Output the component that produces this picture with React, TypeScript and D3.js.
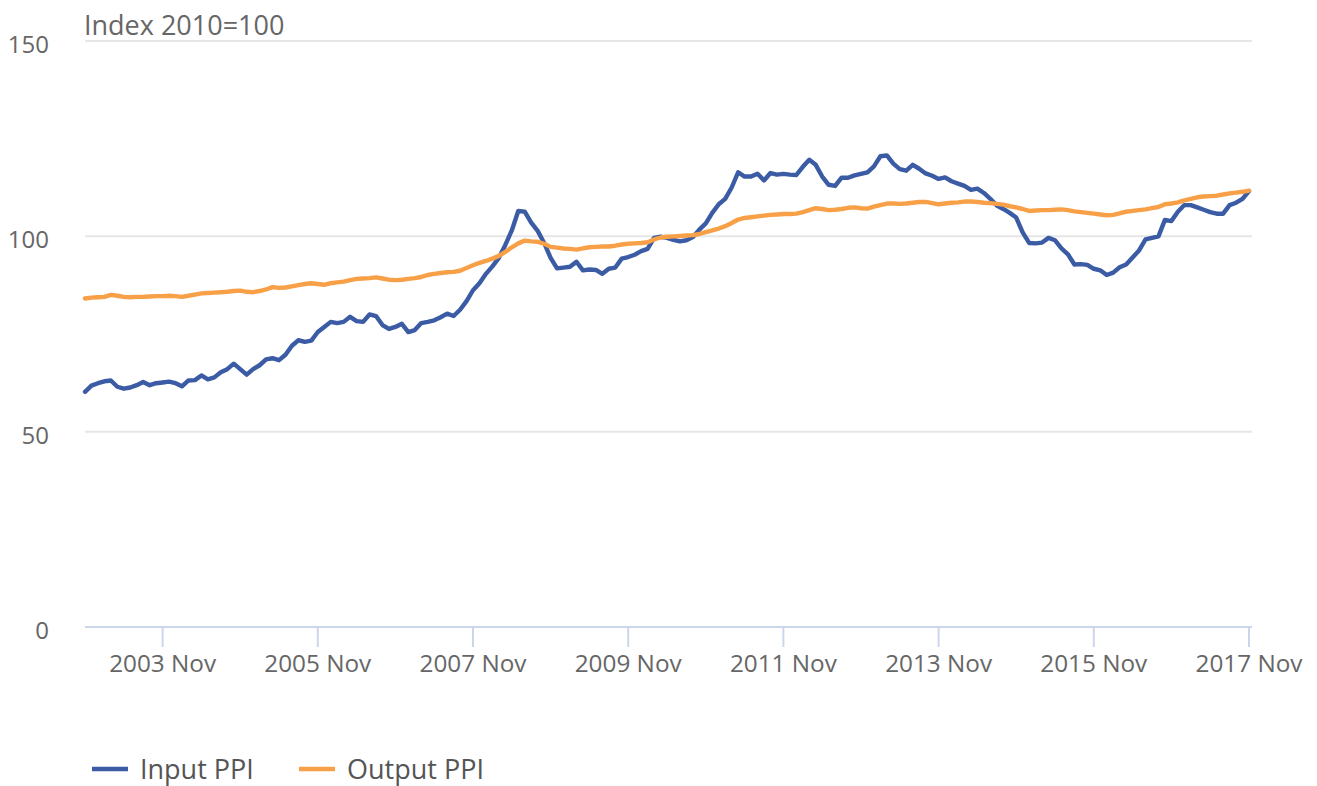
import React, { useEffect, useRef } from "react";
import * as d3 from "d3";

// monthly, 2002 Nov .. 2017 Nov (index 2010=100)
const MONTH_NAMES = ["Jan", "Feb", "Mar", "Apr", "May", "Jun", "Jul", "Aug", "Sep", "Oct", "Nov", "Dec"];
const months: string[] = d3.range(181).map((i) => {
  const m = 10 + i;
  return `${2002 + Math.floor(m / 12)} ${MONTH_NAMES[m % 12]}`;
});

const tickLabels = ["2003 Nov", "2005 Nov", "2007 Nov", "2009 Nov", "2011 Nov", "2013 Nov", "2015 Nov", "2017 Nov"];
const yTicks = [0, 50, 100, 150];

const inputPPI = [
  60.2, 61.8, 62.4, 62.9, 63.1, 61.5, 61.0, 61.3, 61.9, 62.7,
  61.9, 62.4, 62.6, 62.8, 62.4, 61.6, 63.1, 63.2, 64.4, 63.4,
  63.9, 65.2, 66.0, 67.4, 66.0, 64.6, 66.0, 67.0, 68.5, 68.8,
  68.3, 69.7, 72.0, 73.4, 73.0, 73.3, 75.5, 76.8, 78.1, 77.8,
  78.1, 79.4, 78.3, 78.1, 80.0, 79.6, 77.3, 76.3, 76.8, 77.6,
  75.5, 76.0, 77.8, 78.1, 78.5, 79.3, 80.2, 79.6, 81.2, 83.4,
  86.2, 88.0, 90.4, 92.3, 94.5, 97.8, 101.5, 106.5, 106.3, 103.5,
  101.4, 98.3, 94.5, 91.8, 92.0, 92.2, 93.5, 91.3, 91.5, 91.4,
  90.4, 91.7, 92.0, 94.3, 94.7, 95.3, 96.2, 96.8, 99.6, 99.9,
  99.6, 99.1, 98.7, 99.0, 99.8, 101.7, 103.3, 106.0, 108.2, 109.6,
  112.5, 116.4, 115.3, 115.3, 116.0, 114.3, 116.2, 115.8, 116.0, 115.8,
  115.7, 117.8, 119.6, 118.3, 115.3, 113.2, 112.9, 115.0, 115.0, 115.6,
  116.0, 116.4, 117.9, 120.5, 120.7, 118.6, 117.2, 116.8, 118.3, 117.3,
  116.1, 115.5, 114.7, 115.1, 114.1, 113.5, 112.9, 111.9, 112.2, 111.1,
  109.6, 107.9, 107.0, 106.0, 104.8, 101.0, 98.3, 98.2, 98.4, 99.6,
  99.0, 96.9, 95.4, 92.8, 92.9, 92.7, 91.7, 91.3, 90.1, 90.7,
  92.1, 92.8, 94.6, 96.4, 99.2, 99.6, 100.0, 104.2, 103.9, 106.3,
  108.0, 108.0, 107.4, 106.8, 106.2, 105.8, 105.8, 108.0, 108.6, 109.6,
  111.6,
];

const outputPPI = [
  84.1, 84.3, 84.4, 84.5, 85.0, 84.8, 84.5, 84.4, 84.5, 84.5,
  84.6, 84.7, 84.7, 84.8, 84.7, 84.5, 84.8, 85.1, 85.4, 85.5,
  85.6, 85.7, 85.8, 86.0, 86.1, 85.8, 85.7, 86.0, 86.4, 87.0,
  86.8, 86.9, 87.2, 87.5, 87.8, 88.0, 87.8, 87.6, 88.0, 88.2,
  88.4, 88.8, 89.1, 89.2, 89.3, 89.5, 89.2, 88.9, 88.8, 88.9,
  89.1, 89.3, 89.6, 90.1, 90.4, 90.6, 90.8, 90.9, 91.2, 91.9,
  92.6, 93.2, 93.7, 94.3, 95.0, 96.0, 97.2, 98.2, 98.9, 98.7,
  98.6, 98.1, 97.3, 97.1, 96.9, 96.8, 96.6, 96.9, 97.2, 97.3,
  97.4, 97.4, 97.6, 97.9, 98.1, 98.2, 98.3, 98.5, 99.2, 99.7,
  99.9, 100.0, 100.1, 100.2, 100.3, 100.6, 101.1, 101.5, 102.0, 102.6,
  103.4, 104.3, 104.7, 104.9, 105.1, 105.3, 105.5, 105.6, 105.7, 105.7,
  105.8, 106.2, 106.7, 107.2, 107.0, 106.7, 106.8, 107.0, 107.3, 107.4,
  107.2, 107.1, 107.6, 108.0, 108.4, 108.4, 108.3, 108.4, 108.6, 108.8,
  108.8, 108.5, 108.2, 108.4, 108.6, 108.7, 108.9, 108.9, 108.8, 108.6,
  108.5, 108.3, 108.1, 107.7, 107.4, 107.0, 106.5, 106.6, 106.7, 106.7,
  106.8, 106.9, 106.7, 106.4, 106.2, 106.0, 105.8, 105.6, 105.4, 105.5,
  105.9, 106.3, 106.5, 106.7, 106.9, 107.2, 107.5, 108.2, 108.4, 108.7,
  109.2, 109.6, 110.0, 110.2, 110.3, 110.4, 110.7, 111.0, 111.2, 111.4,
  111.7,
];

const seriesNames = ["Input PPI", "Output PPI"];
const colors = ["#3b5ba5", "#f8a047"];

const App = () => {
  const ref = useRef<SVGSVGElement>(null);

  useEffect(() => {
    const width = 1317;
    const height = 786;
    const left = 85;
    const right = 1249;
    const top = 41;
    const bottom = 627;
    const font = "'Open Sans', sans-serif";

    const svg = d3.select(ref.current);
    svg.selectAll("*").remove();
    svg.attr("width", width).attr("height", height);

    const x = d3.scalePoint<string>().domain(months).range([left, right]);
    const y = d3.scaleLinear().domain([0, 150]).range([bottom, top]);

    // gridlines + y labels
    const yg = svg.append("g");
    yTicks.forEach((t) => {
      if (t > 0) {
        yg.append("line")
          .attr("x1", left)
          .attr("x2", right + 3)
          .attr("y1", y(t))
          .attr("y2", y(t))
          .attr("stroke", "#e6e6e6")
          .attr("stroke-width", 2);
      }
      yg.append("text")
        .attr("x", 49)
        .attr("y", y(t) + 12)
        .attr("text-anchor", "end")
        .attr("font-family", font)
        .attr("font-size", 24)
        .attr("fill", "#666")
        .text(t);
    });

    // x axis
    const xa = svg.append("g");
    xa.append("line")
      .attr("x1", left)
      .attr("x2", right + 3)
      .attr("y1", bottom)
      .attr("y2", bottom)
      .attr("stroke", "#ccd6eb")
      .attr("stroke-width", 2);
    tickLabels.forEach((lab) => {
      const px = x(lab)!;
      xa.append("line")
        .attr("x1", px)
        .attr("x2", px)
        .attr("y1", bottom)
        .attr("y2", bottom + 20)
        .attr("stroke", "#ccd6eb")
        .attr("stroke-width", 2);
      xa.append("text")
        .attr("x", px)
        .attr("y", bottom + 45)
        .attr("text-anchor", "middle")
        .attr("font-family", font)
        .attr("font-size", 24.3)
        .attr("fill", "#666")
        .text(lab);
    });

    svg.append("text")
      .attr("x", 84)
      .attr("y", 35)
      .attr("font-family", font)
      .attr("font-size", 27)
      .attr("fill", "#666")
      .text("Index 2010=100");

    const line = d3
      .line<number>()
      .x((_, i) => x(months[i])!)
      .y((d) => y(d));

    [inputPPI, outputPPI].forEach((s, k) => {
      svg.append("path")
        .datum(s)
        .attr("fill", "none")
        .attr("stroke", colors[k])
        .attr("stroke-width", 4.4)
        .attr("stroke-linejoin", "round")
        .attr("stroke-linecap", "round")
        .attr("d", line);
    });

    // legend
    const legendX = [92, 299];
    seriesNames.forEach((name, k) => {
      const g = svg.append("g").attr("transform", `translate(${legendX[k]},769)`);
      g.append("line")
        .attr("x1", 0)
        .attr("x2", 36)
        .attr("stroke", colors[k])
        .attr("stroke-width", 4.4);
      g.append("text")
        .attr("x", 48)
        .attr("y", 10)
        .attr("font-family", font)
        .attr("font-size", 27)
        .attr("fill", "#555")
        .text(name);
    });
  }, []);

  return (
    <div>
      <svg ref={ref} style={{ position: "absolute", left: 0, top: 0 }}></svg>
    </div>
  );
};

export default App;
